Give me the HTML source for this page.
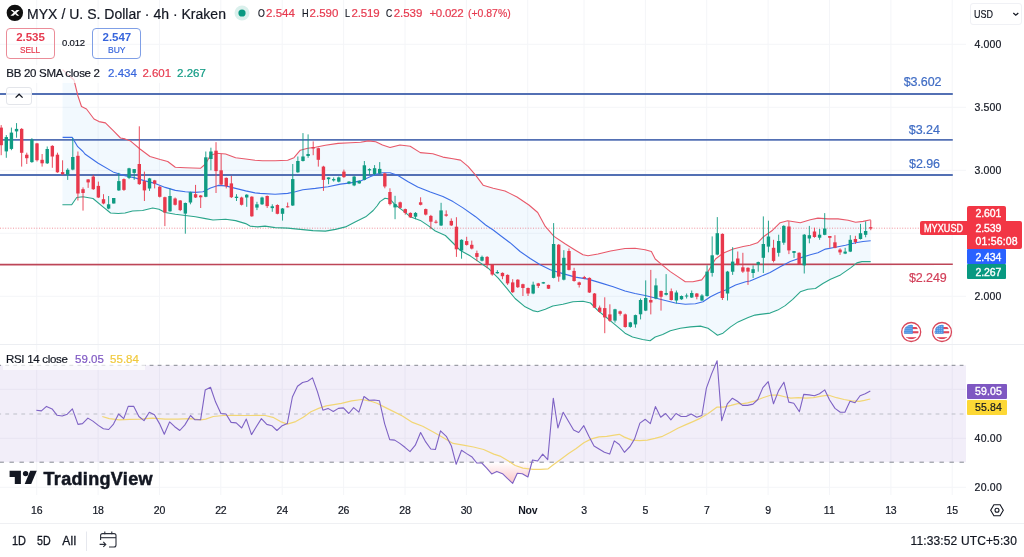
<!DOCTYPE html>
<html><head><meta charset="utf-8"><title>MYXUSD chart</title>
<style>
html,body{margin:0;padding:0;background:#fff;}
#root{position:relative;width:1024px;height:557px;overflow:hidden;background:#fff;font-family:"Liberation Sans",sans-serif;}
svg{position:absolute;left:0;top:0;}
.t{position:absolute;white-space:pre;font-family:"Liberation Sans",sans-serif;}
.box{position:absolute;box-sizing:border-box;}
#labels{position:absolute;left:0;top:0;width:1024px;height:557px;will-change:transform;}
</style></head><body>
<div id="root">
<svg width="1024" height="557" viewBox="0 0 1024 557">
<line x1="36.7" y1="0" x2="36.7" y2="495" stroke="#f4f5f8" stroke-width="1"/>
<line x1="98.1" y1="0" x2="98.1" y2="495" stroke="#f4f5f8" stroke-width="1"/>
<line x1="159.5" y1="0" x2="159.5" y2="495" stroke="#f4f5f8" stroke-width="1"/>
<line x1="220.8" y1="0" x2="220.8" y2="495" stroke="#f4f5f8" stroke-width="1"/>
<line x1="282.2" y1="0" x2="282.2" y2="495" stroke="#f4f5f8" stroke-width="1"/>
<line x1="343.6" y1="0" x2="343.6" y2="495" stroke="#f4f5f8" stroke-width="1"/>
<line x1="405.0" y1="0" x2="405.0" y2="495" stroke="#f4f5f8" stroke-width="1"/>
<line x1="466.4" y1="0" x2="466.4" y2="495" stroke="#f4f5f8" stroke-width="1"/>
<line x1="527.7" y1="0" x2="527.7" y2="495" stroke="#f4f5f8" stroke-width="1"/>
<line x1="584.0" y1="0" x2="584.0" y2="495" stroke="#f4f5f8" stroke-width="1"/>
<line x1="645.4" y1="0" x2="645.4" y2="495" stroke="#f4f5f8" stroke-width="1"/>
<line x1="706.7" y1="0" x2="706.7" y2="495" stroke="#f4f5f8" stroke-width="1"/>
<line x1="768.1" y1="0" x2="768.1" y2="495" stroke="#f4f5f8" stroke-width="1"/>
<line x1="829.5" y1="0" x2="829.5" y2="495" stroke="#f4f5f8" stroke-width="1"/>
<line x1="890.9" y1="0" x2="890.9" y2="495" stroke="#f4f5f8" stroke-width="1"/>
<line x1="952.2" y1="0" x2="952.2" y2="495" stroke="#f4f5f8" stroke-width="1"/>
<line x1="0" y1="44.3" x2="966" y2="44.3" stroke="#f4f5f8" stroke-width="1"/>
<line x1="0" y1="107.3" x2="966" y2="107.3" stroke="#f4f5f8" stroke-width="1"/>
<line x1="0" y1="170.3" x2="966" y2="170.3" stroke="#f4f5f8" stroke-width="1"/>
<line x1="0" y1="233.3" x2="966" y2="233.3" stroke="#f4f5f8" stroke-width="1"/>
<line x1="0" y1="296.3" x2="966" y2="296.3" stroke="#f4f5f8" stroke-width="1"/>
<line x1="0" y1="389.3" x2="966" y2="389.3" stroke="#f4f5f8" stroke-width="1"/>
<line x1="0" y1="438.3" x2="966" y2="438.3" stroke="#f4f5f8" stroke-width="1"/>
<line x1="0" y1="487.3" x2="966" y2="487.3" stroke="#f4f5f8" stroke-width="1"/>
<line x1="0" y1="344.5" x2="1024" y2="344.5" stroke="#eceef2" stroke-width="1"/>
<line x1="0" y1="523.5" x2="1024" y2="523.5" stroke="#eff0f3" stroke-width="1"/>
<path d="M62.6,69.6 L74.0,80.0 L77.7,95.2 L81.5,106.5 L86.5,109.0 L94.0,119.0 L99.0,121.6 L105.4,122.9 L113.0,130.4 L120.5,138.0 L125.0,138.9 L130.0,140.7 L140.0,149.0 L150.0,156.5 L160.2,159.5 L167.7,161.5 L175.3,167.3 L185.3,167.8 L200.4,168.3 L205.5,164.0 L210.5,155.2 L216.8,153.2 L225.6,154.0 L235.6,157.8 L245.7,159.0 L255.0,160.3 L262.6,160.8 L275.1,160.8 L287.7,160.3 L294.0,157.7 L300.3,150.2 L307.8,148.2 L315.4,147.2 L325.4,145.2 L338.0,143.4 L350.6,142.7 L360.6,142.2 L368.2,140.9 L375.7,141.8 L382.5,145.0 L390.0,147.5 L400.0,145.0 L410.2,146.3 L420.3,152.6 L432.8,153.8 L442.9,157.1 L453.0,158.8 L460.5,160.1 L468.0,166.4 L475.6,175.2 L483.1,185.2 L493.2,188.3 L505.0,191.0 L517.0,197.0 L528.9,205.0 L537.7,212.5 L545.3,226.4 L554.0,236.4 L565.4,244.0 L575.4,250.2 L583.0,254.8 L588.0,255.8 L598.0,254.0 L610.6,251.0 L625.0,248.5 L635.0,248.2 L645.1,249.7 L651.4,251.5 L655.2,259.0 L662.7,265.3 L670.3,271.6 L677.8,276.6 L685.3,281.7 L692.9,281.7 L701.7,279.9 L708.0,271.6 L715.5,259.0 L723.0,253.3 L733.1,249.0 L743.2,246.5 L750.0,245.3 L757.5,242.8 L763.8,236.5 L772.6,230.2 L780.2,222.7 L787.7,220.7 L800.3,222.7 L810.3,219.7 L817.9,218.1 L827.9,218.9 L838.0,218.9 L848.1,220.2 L855.6,222.2 L863.1,221.4 L870.7,219.7 L870.7,261.6 L861.9,261.6 L856.9,262.9 L850.6,267.9 L840.5,274.9 L830.5,279.2 L822.9,283.5 L815.4,288.5 L807.8,289.3 L800.3,291.8 L792.7,299.3 L785.2,305.6 L777.7,310.1 L770.1,313.1 L760.0,314.4 L755.0,315.1 L748.2,317.6 L738.1,321.9 L730.6,326.9 L723.0,333.2 L717.5,335.2 L713.0,331.9 L708.0,328.2 L700.4,326.1 L690.4,326.9 L680.3,328.2 L670.3,330.7 L662.7,334.4 L655.2,337.0 L650.1,340.7 L642.6,339.5 L632.5,337.0 L625.0,333.2 L620.7,329.4 L613.2,323.1 L605.6,316.8 L598.0,310.6 L590.5,303.0 L583.0,301.3 L572.9,301.8 L562.9,304.3 L552.8,306.0 L545.3,309.3 L537.7,311.8 L532.7,310.6 L525.1,306.8 L515.1,298.5 L507.5,289.2 L498.2,278.2 L488.2,268.2 L478.1,261.4 L470.5,256.1 L460.5,250.6 L453.0,243.0 L445.4,235.5 L435.3,231.0 L427.8,225.4 L420.3,220.4 L410.2,216.7 L402.7,210.4 L395.1,204.8 L390.0,199.1 L385.0,198.3 L380.0,201.6 L377.0,206.0 L373.2,210.5 L365.7,216.8 L355.6,221.8 L345.5,226.9 L335.5,229.4 L325.4,231.1 L312.9,230.6 L300.3,229.4 L287.7,228.1 L275.1,227.6 L265.0,226.1 L257.5,226.9 L250.0,226.1 L245.7,223.6 L235.6,220.6 L225.6,219.3 L213.0,220.0 L205.5,218.6 L195.4,216.8 L185.3,215.5 L175.3,214.3 L165.2,212.5 L159.0,209.3 L152.7,208.0 L142.6,210.5 L132.5,211.0 L125.0,213.0 L118.2,213.5 L110.6,213.0 L103.0,206.8 L93.0,198.5 L83.0,196.7 L76.7,197.5 L71.7,204.7 L62.4,204.7 Z" fill="#2196f3" fill-opacity="0.06" stroke="none"/>
<line x1="0" y1="94" x2="952.8" y2="94" stroke="#5370b4" stroke-width="1.8"/>
<line x1="0" y1="139.8" x2="952.8" y2="139.8" stroke="#5370b4" stroke-width="1.8"/>
<line x1="0" y1="175" x2="952.8" y2="175" stroke="#5370b4" stroke-width="1.8"/>
<line x1="0" y1="264.6" x2="952.8" y2="264.3" stroke="#bd4557" stroke-width="1.6"/>
<line x1="0" y1="228.2" x2="920" y2="228.2" stroke="#e63a4f" stroke-width="1" stroke-dasharray="1,1.6" stroke-opacity="0.55"/>
<path d="M62.6,69.6 L74.0,80.0 L77.7,95.2 L81.5,106.5 L86.5,109.0 L94.0,119.0 L99.0,121.6 L105.4,122.9 L113.0,130.4 L120.5,138.0 L125.0,138.9 L130.0,140.7 L140.0,149.0 L150.0,156.5 L160.2,159.5 L167.7,161.5 L175.3,167.3 L185.3,167.8 L200.4,168.3 L205.5,164.0 L210.5,155.2 L216.8,153.2 L225.6,154.0 L235.6,157.8 L245.7,159.0 L255.0,160.3 L262.6,160.8 L275.1,160.8 L287.7,160.3 L294.0,157.7 L300.3,150.2 L307.8,148.2 L315.4,147.2 L325.4,145.2 L338.0,143.4 L350.6,142.7 L360.6,142.2 L368.2,140.9 L375.7,141.8 L382.5,145.0 L390.0,147.5 L400.0,145.0 L410.2,146.3 L420.3,152.6 L432.8,153.8 L442.9,157.1 L453.0,158.8 L460.5,160.1 L468.0,166.4 L475.6,175.2 L483.1,185.2 L493.2,188.3 L505.0,191.0 L517.0,197.0 L528.9,205.0 L537.7,212.5 L545.3,226.4 L554.0,236.4 L565.4,244.0 L575.4,250.2 L583.0,254.8 L588.0,255.8 L598.0,254.0 L610.6,251.0 L625.0,248.5 L635.0,248.2 L645.1,249.7 L651.4,251.5 L655.2,259.0 L662.7,265.3 L670.3,271.6 L677.8,276.6 L685.3,281.7 L692.9,281.7 L701.7,279.9 L708.0,271.6 L715.5,259.0 L723.0,253.3 L733.1,249.0 L743.2,246.5 L750.0,245.3 L757.5,242.8 L763.8,236.5 L772.6,230.2 L780.2,222.7 L787.7,220.7 L800.3,222.7 L810.3,219.7 L817.9,218.1 L827.9,218.9 L838.0,218.9 L848.1,220.2 L855.6,222.2 L863.1,221.4 L870.7,219.7" fill="none" stroke="#e8596a" stroke-width="1.1" stroke-linejoin="round"/>
<path d="M62.4,204.7 L71.7,204.7 L76.7,197.5 L83.0,196.7 L93.0,198.5 L103.0,206.8 L110.6,213.0 L118.2,213.5 L125.0,213.0 L132.5,211.0 L142.6,210.5 L152.7,208.0 L159.0,209.3 L165.2,212.5 L175.3,214.3 L185.3,215.5 L195.4,216.8 L205.5,218.6 L213.0,220.0 L225.6,219.3 L235.6,220.6 L245.7,223.6 L250.0,226.1 L257.5,226.9 L265.0,226.1 L275.1,227.6 L287.7,228.1 L300.3,229.4 L312.9,230.6 L325.4,231.1 L335.5,229.4 L345.5,226.9 L355.6,221.8 L365.7,216.8 L373.2,210.5 L377.0,206.0 L380.0,201.6 L385.0,198.3 L390.0,199.1 L395.1,204.8 L402.7,210.4 L410.2,216.7 L420.3,220.4 L427.8,225.4 L435.3,231.0 L445.4,235.5 L453.0,243.0 L460.5,250.6 L470.5,256.1 L478.1,261.4 L488.2,268.2 L498.2,278.2 L507.5,289.2 L515.1,298.5 L525.1,306.8 L532.7,310.6 L537.7,311.8 L545.3,309.3 L552.8,306.0 L562.9,304.3 L572.9,301.8 L583.0,301.3 L590.5,303.0 L598.0,310.6 L605.6,316.8 L613.2,323.1 L620.7,329.4 L625.0,333.2 L632.5,337.0 L642.6,339.5 L650.1,340.7 L655.2,337.0 L662.7,334.4 L670.3,330.7 L680.3,328.2 L690.4,326.9 L700.4,326.1 L708.0,328.2 L713.0,331.9 L717.5,335.2 L723.0,333.2 L730.6,326.9 L738.1,321.9 L748.2,317.6 L755.0,315.1 L760.0,314.4 L770.1,313.1 L777.7,310.1 L785.2,305.6 L792.7,299.3 L800.3,291.8 L807.8,289.3 L815.4,288.5 L822.9,283.5 L830.5,279.2 L840.5,274.9 L850.6,267.9 L856.9,262.9 L861.9,261.6 L870.7,261.6" fill="none" stroke="#2aa58b" stroke-width="1.1" stroke-linejoin="round"/>
<path d="M62.6,137.4 L72.2,137.4 L77.7,146.7 L83.0,151.5 L85.3,154.3 L97.8,163.0 L113.0,171.9 L125.0,175.8 L135.0,177.9 L145.0,180.9 L155.2,183.4 L165.2,187.4 L175.3,190.4 L185.3,191.7 L195.4,192.4 L203.0,191.7 L210.5,187.9 L218.0,185.4 L225.6,185.9 L235.6,188.4 L245.7,190.9 L255.0,192.9 L260.0,193.4 L275.1,194.2 L287.7,193.4 L295.3,191.7 L302.8,189.7 L315.4,188.4 L328.0,186.7 L340.5,184.1 L350.6,182.9 L360.6,180.9 L370.7,176.6 L377.0,174.0 L382.5,172.7 L390.0,172.7 L397.6,175.2 L407.7,181.5 L417.7,187.0 L430.3,192.0 L442.9,196.5 L453.0,201.6 L463.0,207.9 L475.6,216.7 L485.6,225.0 L493.2,230.0 L500.0,235.2 L510.0,242.7 L520.1,251.5 L530.2,258.5 L540.2,264.8 L550.3,269.8 L562.9,273.6 L575.4,277.1 L588.0,279.1 L600.6,282.9 L613.2,286.7 L625.0,291.0 L635.0,293.5 L645.1,295.5 L655.2,298.0 L665.2,300.5 L675.3,303.0 L685.3,304.3 L695.4,303.8 L703.0,301.8 L710.5,296.7 L718.0,293.0 L725.6,290.0 L735.6,284.9 L745.7,281.7 L750.0,281.0 L760.0,276.7 L770.1,272.4 L780.2,266.7 L790.2,261.6 L800.3,257.9 L810.3,254.8 L817.9,252.8 L825.4,249.1 L835.5,247.3 L845.5,245.3 L855.6,242.8 L863.1,241.5 L870.7,240.8" fill="none" stroke="#3d6fe8" stroke-width="1.1" stroke-linejoin="round"/>
<line x1="1.20" y1="125.1" x2="1.20" y2="155.2" stroke="#e8384c" stroke-width="0.9"/>
<rect x="-0.50" y="127.6" width="3.4" height="17.6" fill="#e8384c"/>
<line x1="6.31" y1="135.1" x2="6.31" y2="157.8" stroke="#0f9b82" stroke-width="0.9"/>
<rect x="4.61" y="137.1" width="3.4" height="14.3" fill="#0f9b82"/>
<line x1="11.42" y1="127.6" x2="11.42" y2="150.2" stroke="#0f9b82" stroke-width="0.9"/>
<rect x="9.72" y="132.6" width="3.4" height="16.3" fill="#0f9b82"/>
<line x1="16.54" y1="123.1" x2="16.54" y2="137.7" stroke="#0f9b82" stroke-width="0.9"/>
<rect x="14.84" y="128.9" width="3.4" height="2.5" fill="#0f9b82"/>
<line x1="21.66" y1="128.1" x2="21.66" y2="166.6" stroke="#e8384c" stroke-width="0.9"/>
<rect x="19.96" y="128.9" width="3.4" height="23.9" fill="#e8384c"/>
<line x1="26.77" y1="152.7" x2="26.77" y2="164.0" stroke="#e8384c" stroke-width="0.9"/>
<rect x="25.07" y="154.7" width="3.4" height="3.5" fill="#e8384c"/>
<line x1="31.88" y1="138.2" x2="31.88" y2="162.8" stroke="#0f9b82" stroke-width="0.9"/>
<rect x="30.18" y="139.7" width="3.4" height="22.4" fill="#0f9b82"/>
<line x1="37.00" y1="142.9" x2="37.00" y2="161.5" stroke="#e8384c" stroke-width="0.9"/>
<rect x="35.30" y="143.4" width="3.4" height="16.8" fill="#e8384c"/>
<line x1="42.12" y1="154.0" x2="42.12" y2="166.6" stroke="#e8384c" stroke-width="0.9"/>
<rect x="40.41" y="159.8" width="3.4" height="3.5" fill="#e8384c"/>
<line x1="47.23" y1="146.5" x2="47.23" y2="164.0" stroke="#0f9b82" stroke-width="0.9"/>
<rect x="45.53" y="149.0" width="3.4" height="14.3" fill="#0f9b82"/>
<line x1="52.34" y1="145.2" x2="52.34" y2="167.8" stroke="#e8384c" stroke-width="0.9"/>
<rect x="50.64" y="145.9" width="3.4" height="10.6" fill="#e8384c"/>
<line x1="57.46" y1="152.7" x2="57.46" y2="172.8" stroke="#e8384c" stroke-width="0.9"/>
<rect x="55.76" y="154.7" width="3.4" height="17.6" fill="#e8384c"/>
<line x1="62.58" y1="160.3" x2="62.58" y2="174.9" stroke="#e8384c" stroke-width="0.9"/>
<rect x="60.88" y="172.1" width="3.4" height="2.0" fill="#e8384c"/>
<line x1="67.69" y1="168.3" x2="67.69" y2="179.9" stroke="#0f9b82" stroke-width="0.9"/>
<rect x="65.99" y="169.8" width="3.4" height="5.0" fill="#0f9b82"/>
<line x1="72.81" y1="138.2" x2="72.81" y2="170.3" stroke="#0f9b82" stroke-width="0.9"/>
<rect x="71.11" y="157.0" width="3.4" height="12.6" fill="#0f9b82"/>
<line x1="77.92" y1="151.5" x2="77.92" y2="200.5" stroke="#e8384c" stroke-width="0.9"/>
<rect x="76.22" y="155.8" width="3.4" height="37.7" fill="#e8384c"/>
<line x1="83.03" y1="187.4" x2="83.03" y2="210.6" stroke="#e8384c" stroke-width="0.9"/>
<rect x="81.33" y="189.2" width="3.4" height="3.8" fill="#e8384c"/>
<line x1="88.15" y1="179.1" x2="88.15" y2="187.9" stroke="#e8384c" stroke-width="0.9"/>
<rect x="86.45" y="179.4" width="3.4" height="3.0" fill="#e8384c"/>
<line x1="93.27" y1="174.9" x2="93.27" y2="189.9" stroke="#e8384c" stroke-width="0.9"/>
<rect x="91.56" y="176.6" width="3.4" height="12.6" fill="#e8384c"/>
<line x1="98.38" y1="181.6" x2="98.38" y2="198.0" stroke="#e8384c" stroke-width="0.9"/>
<rect x="96.68" y="185.9" width="3.4" height="11.6" fill="#e8384c"/>
<line x1="103.50" y1="194.2" x2="103.50" y2="204.3" stroke="#e8384c" stroke-width="0.9"/>
<rect x="101.80" y="199.2" width="3.4" height="4.3" fill="#e8384c"/>
<line x1="108.61" y1="196.0" x2="108.61" y2="209.3" stroke="#0f9b82" stroke-width="0.9"/>
<rect x="106.91" y="204.3" width="3.4" height="4.3" fill="#0f9b82"/>
<line x1="113.73" y1="198.0" x2="113.73" y2="203.5" stroke="#0f9b82" stroke-width="0.9"/>
<rect x="112.03" y="198.0" width="3.4" height="5.5" fill="#0f9b82"/>
<line x1="118.84" y1="172.8" x2="118.84" y2="190.9" stroke="#0f9b82" stroke-width="0.9"/>
<rect x="117.14" y="181.1" width="3.4" height="9.3" fill="#0f9b82"/>
<line x1="123.95" y1="178.4" x2="123.95" y2="190.9" stroke="#e8384c" stroke-width="0.9"/>
<rect x="122.25" y="179.1" width="3.4" height="10.8" fill="#e8384c"/>
<line x1="129.07" y1="167.8" x2="129.07" y2="179.1" stroke="#0f9b82" stroke-width="0.9"/>
<rect x="127.37" y="168.3" width="3.4" height="9.6" fill="#0f9b82"/>
<line x1="134.19" y1="169.1" x2="134.19" y2="179.9" stroke="#0f9b82" stroke-width="0.9"/>
<rect x="132.49" y="169.1" width="3.4" height="3.8" fill="#0f9b82"/>
<line x1="139.30" y1="126.3" x2="139.30" y2="184.9" stroke="#e8384c" stroke-width="0.9"/>
<rect x="137.60" y="164.0" width="3.4" height="20.1" fill="#e8384c"/>
<line x1="144.42" y1="171.6" x2="144.42" y2="201.0" stroke="#e8384c" stroke-width="0.9"/>
<rect x="142.72" y="181.1" width="3.4" height="9.3" fill="#e8384c"/>
<line x1="149.53" y1="177.9" x2="149.53" y2="190.9" stroke="#0f9b82" stroke-width="0.9"/>
<rect x="147.83" y="178.4" width="3.4" height="10.1" fill="#0f9b82"/>
<line x1="154.65" y1="179.9" x2="154.65" y2="188.4" stroke="#e8384c" stroke-width="0.9"/>
<rect x="152.95" y="180.4" width="3.4" height="3.3" fill="#e8384c"/>
<line x1="159.76" y1="185.9" x2="159.76" y2="197.5" stroke="#e8384c" stroke-width="0.9"/>
<rect x="158.06" y="186.7" width="3.4" height="10.1" fill="#e8384c"/>
<line x1="164.88" y1="196.7" x2="164.88" y2="226.1" stroke="#e8384c" stroke-width="0.9"/>
<rect x="163.18" y="197.2" width="3.4" height="15.3" fill="#e8384c"/>
<line x1="169.99" y1="188.4" x2="169.99" y2="211.8" stroke="#0f9b82" stroke-width="0.9"/>
<rect x="168.29" y="196.0" width="3.4" height="15.3" fill="#0f9b82"/>
<line x1="175.11" y1="197.5" x2="175.11" y2="205.5" stroke="#e8384c" stroke-width="0.9"/>
<rect x="173.41" y="198.5" width="3.4" height="6.3" fill="#e8384c"/>
<line x1="180.22" y1="200.0" x2="180.22" y2="211.1" stroke="#e8384c" stroke-width="0.9"/>
<rect x="178.52" y="200.5" width="3.4" height="9.6" fill="#e8384c"/>
<line x1="185.34" y1="202.5" x2="185.34" y2="233.7" stroke="#0f9b82" stroke-width="0.9"/>
<rect x="183.64" y="203.0" width="3.4" height="10.6" fill="#0f9b82"/>
<line x1="190.45" y1="191.7" x2="190.45" y2="204.3" stroke="#0f9b82" stroke-width="0.9"/>
<rect x="188.75" y="192.2" width="3.4" height="10.3" fill="#0f9b82"/>
<line x1="195.56" y1="184.9" x2="195.56" y2="198.0" stroke="#e8384c" stroke-width="0.9"/>
<rect x="193.87" y="194.2" width="3.4" height="3.3" fill="#e8384c"/>
<line x1="200.68" y1="195.0" x2="200.68" y2="208.0" stroke="#e8384c" stroke-width="0.9"/>
<rect x="198.98" y="195.5" width="3.4" height="1.8" fill="#e8384c"/>
<line x1="205.80" y1="151.5" x2="205.80" y2="197.2" stroke="#0f9b82" stroke-width="0.9"/>
<rect x="204.10" y="157.3" width="3.4" height="39.5" fill="#0f9b82"/>
<line x1="210.91" y1="147.7" x2="210.91" y2="170.3" stroke="#0f9b82" stroke-width="0.9"/>
<rect x="209.21" y="151.5" width="3.4" height="7.5" fill="#0f9b82"/>
<line x1="216.03" y1="142.2" x2="216.03" y2="193.0" stroke="#e8384c" stroke-width="0.9"/>
<rect x="214.33" y="150.7" width="3.4" height="20.4" fill="#e8384c"/>
<line x1="221.14" y1="154.0" x2="221.14" y2="185.4" stroke="#e8384c" stroke-width="0.9"/>
<rect x="219.44" y="170.3" width="3.4" height="14.3" fill="#e8384c"/>
<line x1="226.25" y1="177.4" x2="226.25" y2="188.4" stroke="#e8384c" stroke-width="0.9"/>
<rect x="224.56" y="177.9" width="3.4" height="8.3" fill="#e8384c"/>
<line x1="231.37" y1="175.9" x2="231.37" y2="198.0" stroke="#e8384c" stroke-width="0.9"/>
<rect x="229.67" y="183.4" width="3.4" height="13.8" fill="#e8384c"/>
<line x1="236.49" y1="194.2" x2="236.49" y2="201.0" stroke="#0f9b82" stroke-width="0.9"/>
<rect x="234.79" y="196.7" width="3.4" height="1.3" fill="#0f9b82"/>
<line x1="241.60" y1="196.7" x2="241.60" y2="205.5" stroke="#e8384c" stroke-width="0.9"/>
<rect x="239.90" y="197.5" width="3.4" height="7.3" fill="#e8384c"/>
<line x1="246.72" y1="194.2" x2="246.72" y2="206.8" stroke="#0f9b82" stroke-width="0.9"/>
<rect x="245.02" y="194.7" width="3.4" height="2.8" fill="#0f9b82"/>
<line x1="251.83" y1="196.2" x2="251.83" y2="216.8" stroke="#e8384c" stroke-width="0.9"/>
<rect x="250.13" y="196.7" width="3.4" height="19.6" fill="#e8384c"/>
<line x1="256.95" y1="201.8" x2="256.95" y2="210.1" stroke="#0f9b82" stroke-width="0.9"/>
<rect x="255.25" y="204.3" width="3.4" height="3.3" fill="#0f9b82"/>
<line x1="262.06" y1="196.7" x2="262.06" y2="205.0" stroke="#0f9b82" stroke-width="0.9"/>
<rect x="260.36" y="197.5" width="3.4" height="6.8" fill="#0f9b82"/>
<line x1="267.18" y1="195.5" x2="267.18" y2="208.0" stroke="#e8384c" stroke-width="0.9"/>
<rect x="265.48" y="196.0" width="3.4" height="10.1" fill="#e8384c"/>
<line x1="272.29" y1="204.3" x2="272.29" y2="211.8" stroke="#0f9b82" stroke-width="0.9"/>
<rect x="270.59" y="206.3" width="3.4" height="1.8" fill="#0f9b82"/>
<line x1="277.40" y1="204.3" x2="277.40" y2="214.3" stroke="#e8384c" stroke-width="0.9"/>
<rect x="275.70" y="205.0" width="3.4" height="8.8" fill="#e8384c"/>
<line x1="282.52" y1="208.0" x2="282.52" y2="220.6" stroke="#0f9b82" stroke-width="0.9"/>
<rect x="280.82" y="208.5" width="3.4" height="5.3" fill="#0f9b82"/>
<line x1="287.63" y1="202.5" x2="287.63" y2="207.5" stroke="#e8384c" stroke-width="0.9"/>
<rect x="285.94" y="206.3" width="3.4" height="1.0" fill="#e8384c"/>
<line x1="292.75" y1="164.0" x2="292.75" y2="206.0" stroke="#0f9b82" stroke-width="0.9"/>
<rect x="291.05" y="179.1" width="3.4" height="26.4" fill="#0f9b82"/>
<line x1="297.87" y1="156.5" x2="297.87" y2="172.8" stroke="#0f9b82" stroke-width="0.9"/>
<rect x="296.17" y="161.0" width="3.4" height="11.3" fill="#0f9b82"/>
<line x1="302.98" y1="133.1" x2="302.98" y2="161.5" stroke="#0f9b82" stroke-width="0.9"/>
<rect x="301.28" y="156.5" width="3.4" height="4.5" fill="#0f9b82"/>
<line x1="308.10" y1="134.4" x2="308.10" y2="157.8" stroke="#0f9b82" stroke-width="0.9"/>
<rect x="306.40" y="154.0" width="3.4" height="2.0" fill="#0f9b82"/>
<line x1="313.21" y1="141.4" x2="313.21" y2="155.2" stroke="#e8384c" stroke-width="0.9"/>
<rect x="311.51" y="147.2" width="3.4" height="1.3" fill="#e8384c"/>
<line x1="318.32" y1="147.7" x2="318.32" y2="166.6" stroke="#e8384c" stroke-width="0.9"/>
<rect x="316.62" y="148.2" width="3.4" height="11.6" fill="#e8384c"/>
<line x1="323.44" y1="165.8" x2="323.44" y2="190.9" stroke="#e8384c" stroke-width="0.9"/>
<rect x="321.74" y="166.6" width="3.4" height="13.3" fill="#e8384c"/>
<line x1="328.56" y1="177.4" x2="328.56" y2="184.2" stroke="#0f9b82" stroke-width="0.9"/>
<rect x="326.86" y="177.4" width="3.4" height="1.8" fill="#0f9b82"/>
<line x1="333.67" y1="177.4" x2="333.67" y2="181.6" stroke="#0f9b82" stroke-width="0.9"/>
<rect x="331.97" y="179.1" width="3.4" height="1.3" fill="#0f9b82"/>
<line x1="338.79" y1="176.6" x2="338.79" y2="182.4" stroke="#0f9b82" stroke-width="0.9"/>
<rect x="337.09" y="177.4" width="3.4" height="4.3" fill="#0f9b82"/>
<line x1="343.90" y1="169.6" x2="343.90" y2="177.9" stroke="#e8384c" stroke-width="0.9"/>
<rect x="342.20" y="171.6" width="3.4" height="5.5" fill="#e8384c"/>
<line x1="349.01" y1="181.1" x2="349.01" y2="184.2" stroke="#0f9b82" stroke-width="0.9"/>
<rect x="347.31" y="181.6" width="3.4" height="1.8" fill="#0f9b82"/>
<line x1="354.13" y1="175.9" x2="354.13" y2="186.2" stroke="#0f9b82" stroke-width="0.9"/>
<rect x="352.43" y="176.6" width="3.4" height="8.8" fill="#0f9b82"/>
<line x1="359.25" y1="180.4" x2="359.25" y2="183.7" stroke="#0f9b82" stroke-width="0.9"/>
<rect x="357.55" y="180.9" width="3.4" height="2.5" fill="#0f9b82"/>
<line x1="364.36" y1="161.0" x2="364.36" y2="180.4" stroke="#0f9b82" stroke-width="0.9"/>
<rect x="362.66" y="165.3" width="3.4" height="14.6" fill="#0f9b82"/>
<line x1="369.48" y1="168.3" x2="369.48" y2="174.9" stroke="#0f9b82" stroke-width="0.9"/>
<rect x="367.78" y="169.1" width="3.4" height="1.3" fill="#0f9b82"/>
<line x1="374.59" y1="165.1" x2="374.59" y2="175.2" stroke="#0f9b82" stroke-width="0.9"/>
<rect x="372.89" y="168.2" width="3.4" height="5.8" fill="#0f9b82"/>
<line x1="379.71" y1="162.1" x2="379.71" y2="173.9" stroke="#0f9b82" stroke-width="0.9"/>
<rect x="378.01" y="168.9" width="3.4" height="4.5" fill="#0f9b82"/>
<line x1="384.82" y1="172.7" x2="384.82" y2="188.3" stroke="#e8384c" stroke-width="0.9"/>
<rect x="383.12" y="173.4" width="3.4" height="13.1" fill="#e8384c"/>
<line x1="389.94" y1="188.3" x2="389.94" y2="205.4" stroke="#e8384c" stroke-width="0.9"/>
<rect x="388.24" y="192.0" width="3.4" height="12.1" fill="#e8384c"/>
<line x1="395.05" y1="195.8" x2="395.05" y2="219.2" stroke="#0f9b82" stroke-width="0.9"/>
<rect x="393.35" y="204.1" width="3.4" height="3.3" fill="#0f9b82"/>
<line x1="400.17" y1="201.6" x2="400.17" y2="208.4" stroke="#e8384c" stroke-width="0.9"/>
<rect x="398.47" y="202.3" width="3.4" height="5.5" fill="#e8384c"/>
<line x1="405.28" y1="208.6" x2="405.28" y2="214.7" stroke="#e8384c" stroke-width="0.9"/>
<rect x="403.58" y="209.1" width="3.4" height="3.8" fill="#e8384c"/>
<line x1="410.40" y1="212.4" x2="410.40" y2="217.9" stroke="#e8384c" stroke-width="0.9"/>
<rect x="408.70" y="212.9" width="3.4" height="4.5" fill="#e8384c"/>
<line x1="415.51" y1="212.1" x2="415.51" y2="219.2" stroke="#0f9b82" stroke-width="0.9"/>
<rect x="413.81" y="212.9" width="3.4" height="3.8" fill="#0f9b82"/>
<line x1="420.62" y1="197.3" x2="420.62" y2="205.4" stroke="#e8384c" stroke-width="0.9"/>
<rect x="418.93" y="202.3" width="3.4" height="2.5" fill="#e8384c"/>
<line x1="425.74" y1="208.6" x2="425.74" y2="215.4" stroke="#e8384c" stroke-width="0.9"/>
<rect x="424.04" y="209.1" width="3.4" height="5.5" fill="#e8384c"/>
<line x1="430.86" y1="214.9" x2="430.86" y2="229.2" stroke="#e8384c" stroke-width="0.9"/>
<rect x="429.16" y="215.9" width="3.4" height="5.8" fill="#e8384c"/>
<line x1="435.97" y1="219.9" x2="435.97" y2="223.5" stroke="#e8384c" stroke-width="0.9"/>
<rect x="434.27" y="221.7" width="3.4" height="1.0" fill="#e8384c"/>
<line x1="441.09" y1="202.8" x2="441.09" y2="226.0" stroke="#0f9b82" stroke-width="0.9"/>
<rect x="439.39" y="210.4" width="3.4" height="15.1" fill="#0f9b82"/>
<line x1="446.20" y1="210.4" x2="446.20" y2="216.7" stroke="#e8384c" stroke-width="0.9"/>
<rect x="444.50" y="214.4" width="3.4" height="1.3" fill="#e8384c"/>
<line x1="451.31" y1="218.4" x2="451.31" y2="226.0" stroke="#e8384c" stroke-width="0.9"/>
<rect x="449.62" y="220.9" width="3.4" height="4.5" fill="#e8384c"/>
<line x1="456.43" y1="217.2" x2="456.43" y2="256.9" stroke="#e8384c" stroke-width="0.9"/>
<rect x="454.73" y="226.7" width="3.4" height="22.6" fill="#e8384c"/>
<line x1="461.55" y1="239.3" x2="461.55" y2="258.7" stroke="#0f9b82" stroke-width="0.9"/>
<rect x="459.85" y="239.8" width="3.4" height="10.8" fill="#0f9b82"/>
<line x1="466.66" y1="236.8" x2="466.66" y2="245.6" stroke="#e8384c" stroke-width="0.9"/>
<rect x="464.96" y="241.1" width="3.4" height="3.8" fill="#e8384c"/>
<line x1="471.78" y1="240.6" x2="471.78" y2="249.4" stroke="#e8384c" stroke-width="0.9"/>
<rect x="470.08" y="244.8" width="3.4" height="3.8" fill="#e8384c"/>
<line x1="476.89" y1="250.6" x2="476.89" y2="261.2" stroke="#e8384c" stroke-width="0.9"/>
<rect x="475.19" y="253.1" width="3.4" height="3.8" fill="#e8384c"/>
<line x1="482.00" y1="255.6" x2="482.00" y2="261.4" stroke="#0f9b82" stroke-width="0.9"/>
<rect x="480.31" y="256.9" width="3.4" height="3.8" fill="#0f9b82"/>
<line x1="487.12" y1="256.1" x2="487.12" y2="268.2" stroke="#e8384c" stroke-width="0.9"/>
<rect x="485.42" y="256.9" width="3.4" height="8.0" fill="#e8384c"/>
<line x1="492.24" y1="264.4" x2="492.24" y2="275.7" stroke="#e8384c" stroke-width="0.9"/>
<rect x="490.54" y="264.9" width="3.4" height="9.6" fill="#e8384c"/>
<line x1="497.35" y1="270.2" x2="497.35" y2="273.7" stroke="#0f9b82" stroke-width="0.9"/>
<rect x="495.65" y="272.0" width="3.4" height="1.3" fill="#0f9b82"/>
<line x1="502.47" y1="272.4" x2="502.47" y2="279.2" stroke="#e8384c" stroke-width="0.9"/>
<rect x="500.77" y="272.9" width="3.4" height="3.3" fill="#e8384c"/>
<line x1="507.58" y1="274.4" x2="507.58" y2="284.9" stroke="#e8384c" stroke-width="0.9"/>
<rect x="505.88" y="274.9" width="3.4" height="8.5" fill="#e8384c"/>
<line x1="512.69" y1="279.2" x2="512.69" y2="293.0" stroke="#e8384c" stroke-width="0.9"/>
<rect x="510.99" y="282.4" width="3.4" height="9.8" fill="#e8384c"/>
<line x1="517.81" y1="279.2" x2="517.81" y2="288.0" stroke="#e8384c" stroke-width="0.9"/>
<rect x="516.11" y="279.7" width="3.4" height="7.5" fill="#e8384c"/>
<line x1="522.92" y1="283.7" x2="522.92" y2="296.0" stroke="#e8384c" stroke-width="0.9"/>
<rect x="521.22" y="284.2" width="3.4" height="3.8" fill="#e8384c"/>
<line x1="528.04" y1="287.5" x2="528.04" y2="296.0" stroke="#e8384c" stroke-width="0.9"/>
<rect x="526.34" y="288.0" width="3.4" height="5.5" fill="#e8384c"/>
<line x1="533.15" y1="281.7" x2="533.15" y2="294.2" stroke="#0f9b82" stroke-width="0.9"/>
<rect x="531.45" y="284.7" width="3.4" height="8.8" fill="#0f9b82"/>
<line x1="538.27" y1="282.9" x2="538.27" y2="288.0" stroke="#e8384c" stroke-width="0.9"/>
<rect x="536.57" y="283.4" width="3.4" height="2.5" fill="#e8384c"/>
<line x1="543.38" y1="281.9" x2="543.38" y2="283.7" stroke="#0f9b82" stroke-width="0.9"/>
<rect x="541.68" y="282.2" width="3.4" height="1.3" fill="#0f9b82"/>
<line x1="548.50" y1="284.7" x2="548.50" y2="289.0" stroke="#e8384c" stroke-width="0.9"/>
<rect x="546.80" y="284.9" width="3.4" height="3.8" fill="#e8384c"/>
<line x1="553.62" y1="223.1" x2="553.62" y2="278.4" stroke="#0f9b82" stroke-width="0.9"/>
<rect x="551.91" y="244.0" width="3.4" height="33.9" fill="#0f9b82"/>
<line x1="558.73" y1="244.0" x2="558.73" y2="281.7" stroke="#e8384c" stroke-width="0.9"/>
<rect x="557.03" y="244.7" width="3.4" height="31.9" fill="#e8384c"/>
<line x1="563.85" y1="250.2" x2="563.85" y2="280.4" stroke="#0f9b82" stroke-width="0.9"/>
<rect x="562.14" y="257.8" width="3.4" height="21.9" fill="#0f9b82"/>
<line x1="568.96" y1="248.5" x2="568.96" y2="270.4" stroke="#e8384c" stroke-width="0.9"/>
<rect x="567.26" y="251.0" width="3.4" height="18.9" fill="#e8384c"/>
<line x1="574.08" y1="267.8" x2="574.08" y2="281.7" stroke="#e8384c" stroke-width="0.9"/>
<rect x="572.38" y="270.9" width="3.4" height="10.1" fill="#e8384c"/>
<line x1="579.19" y1="281.7" x2="579.19" y2="287.5" stroke="#e8384c" stroke-width="0.9"/>
<rect x="577.49" y="282.4" width="3.4" height="2.5" fill="#e8384c"/>
<line x1="584.31" y1="275.9" x2="584.31" y2="279.2" stroke="#e8384c" stroke-width="0.9"/>
<rect x="582.61" y="277.1" width="3.4" height="1.3" fill="#e8384c"/>
<line x1="589.42" y1="277.4" x2="589.42" y2="293.0" stroke="#e8384c" stroke-width="0.9"/>
<rect x="587.72" y="277.9" width="3.4" height="14.6" fill="#e8384c"/>
<line x1="594.53" y1="293.0" x2="594.53" y2="308.1" stroke="#e8384c" stroke-width="0.9"/>
<rect x="592.83" y="293.5" width="3.4" height="14.1" fill="#e8384c"/>
<line x1="599.65" y1="305.6" x2="599.65" y2="312.6" stroke="#e8384c" stroke-width="0.9"/>
<rect x="597.95" y="307.6" width="3.4" height="4.3" fill="#e8384c"/>
<line x1="604.76" y1="297.3" x2="604.76" y2="333.2" stroke="#e8384c" stroke-width="0.9"/>
<rect x="603.06" y="308.1" width="3.4" height="9.3" fill="#e8384c"/>
<line x1="609.88" y1="304.3" x2="609.88" y2="321.9" stroke="#e8384c" stroke-width="0.9"/>
<rect x="608.18" y="314.4" width="3.4" height="6.3" fill="#e8384c"/>
<line x1="615.00" y1="308.8" x2="615.00" y2="322.6" stroke="#0f9b82" stroke-width="0.9"/>
<rect x="613.29" y="309.3" width="3.4" height="11.3" fill="#0f9b82"/>
<line x1="620.11" y1="310.6" x2="620.11" y2="315.6" stroke="#e8384c" stroke-width="0.9"/>
<rect x="618.41" y="311.3" width="3.4" height="2.5" fill="#e8384c"/>
<line x1="625.23" y1="313.6" x2="625.23" y2="327.7" stroke="#e8384c" stroke-width="0.9"/>
<rect x="623.52" y="314.4" width="3.4" height="12.6" fill="#e8384c"/>
<line x1="630.34" y1="321.9" x2="630.34" y2="327.7" stroke="#0f9b82" stroke-width="0.9"/>
<rect x="628.64" y="322.4" width="3.4" height="4.5" fill="#0f9b82"/>
<line x1="635.46" y1="314.6" x2="635.46" y2="327.7" stroke="#0f9b82" stroke-width="0.9"/>
<rect x="633.75" y="315.1" width="3.4" height="9.3" fill="#0f9b82"/>
<line x1="640.57" y1="298.5" x2="640.57" y2="319.4" stroke="#0f9b82" stroke-width="0.9"/>
<rect x="638.87" y="300.0" width="3.4" height="14.3" fill="#0f9b82"/>
<line x1="645.69" y1="280.4" x2="645.69" y2="311.1" stroke="#0f9b82" stroke-width="0.9"/>
<rect x="643.99" y="298.0" width="3.4" height="12.6" fill="#0f9b82"/>
<line x1="650.80" y1="269.9" x2="650.80" y2="314.4" stroke="#e8384c" stroke-width="0.9"/>
<rect x="649.10" y="300.0" width="3.4" height="2.5" fill="#e8384c"/>
<line x1="655.92" y1="278.4" x2="655.92" y2="299.3" stroke="#0f9b82" stroke-width="0.9"/>
<rect x="654.22" y="285.4" width="3.4" height="13.1" fill="#0f9b82"/>
<line x1="661.03" y1="290.5" x2="661.03" y2="310.6" stroke="#e8384c" stroke-width="0.9"/>
<rect x="659.33" y="291.0" width="3.4" height="5.8" fill="#e8384c"/>
<line x1="666.14" y1="274.1" x2="666.14" y2="295.5" stroke="#0f9b82" stroke-width="0.9"/>
<rect x="664.44" y="293.0" width="3.4" height="1.8" fill="#0f9b82"/>
<line x1="671.26" y1="288.5" x2="671.26" y2="300.5" stroke="#e8384c" stroke-width="0.9"/>
<rect x="669.56" y="291.2" width="3.4" height="8.8" fill="#e8384c"/>
<line x1="676.38" y1="290.5" x2="676.38" y2="303.5" stroke="#0f9b82" stroke-width="0.9"/>
<rect x="674.67" y="292.5" width="3.4" height="8.0" fill="#0f9b82"/>
<line x1="681.49" y1="295.5" x2="681.49" y2="299.8" stroke="#0f9b82" stroke-width="0.9"/>
<rect x="679.79" y="296.0" width="3.4" height="3.3" fill="#0f9b82"/>
<line x1="686.61" y1="293.5" x2="686.61" y2="298.5" stroke="#0f9b82" stroke-width="0.9"/>
<rect x="684.90" y="295.5" width="3.4" height="1.0" fill="#0f9b82"/>
<line x1="691.72" y1="290.5" x2="691.72" y2="298.0" stroke="#0f9b82" stroke-width="0.9"/>
<rect x="690.02" y="293.0" width="3.4" height="4.5" fill="#0f9b82"/>
<line x1="696.84" y1="293.0" x2="696.84" y2="299.3" stroke="#e8384c" stroke-width="0.9"/>
<rect x="695.13" y="293.5" width="3.4" height="3.3" fill="#e8384c"/>
<line x1="701.95" y1="294.2" x2="701.95" y2="301.0" stroke="#0f9b82" stroke-width="0.9"/>
<rect x="700.25" y="295.5" width="3.4" height="5.0" fill="#0f9b82"/>
<line x1="707.07" y1="265.3" x2="707.07" y2="296.8" stroke="#0f9b82" stroke-width="0.9"/>
<rect x="705.37" y="271.6" width="3.4" height="24.4" fill="#0f9b82"/>
<line x1="712.18" y1="236.4" x2="712.18" y2="276.6" stroke="#0f9b82" stroke-width="0.9"/>
<rect x="710.48" y="255.3" width="3.4" height="17.6" fill="#0f9b82"/>
<line x1="717.30" y1="217.1" x2="717.30" y2="255.3" stroke="#0f9b82" stroke-width="0.9"/>
<rect x="715.60" y="233.2" width="3.4" height="21.4" fill="#0f9b82"/>
<line x1="722.41" y1="233.4" x2="722.41" y2="300.0" stroke="#e8384c" stroke-width="0.9"/>
<rect x="720.71" y="233.9" width="3.4" height="64.1" fill="#e8384c"/>
<line x1="727.52" y1="270.9" x2="727.52" y2="300.5" stroke="#0f9b82" stroke-width="0.9"/>
<rect x="725.82" y="271.6" width="3.4" height="21.9" fill="#0f9b82"/>
<line x1="732.64" y1="247.2" x2="732.64" y2="274.9" stroke="#0f9b82" stroke-width="0.9"/>
<rect x="730.94" y="261.6" width="3.4" height="10.1" fill="#0f9b82"/>
<line x1="737.75" y1="251.5" x2="737.75" y2="265.3" stroke="#e8384c" stroke-width="0.9"/>
<rect x="736.05" y="258.5" width="3.4" height="6.3" fill="#e8384c"/>
<line x1="742.87" y1="252.8" x2="742.87" y2="272.9" stroke="#e8384c" stroke-width="0.9"/>
<rect x="741.17" y="267.3" width="3.4" height="4.3" fill="#e8384c"/>
<line x1="747.99" y1="267.3" x2="747.99" y2="284.9" stroke="#e8384c" stroke-width="0.9"/>
<rect x="746.28" y="267.8" width="3.4" height="3.8" fill="#e8384c"/>
<line x1="753.10" y1="265.4" x2="753.10" y2="278.0" stroke="#0f9b82" stroke-width="0.9"/>
<rect x="751.40" y="269.2" width="3.4" height="3.8" fill="#0f9b82"/>
<line x1="758.22" y1="261.6" x2="758.22" y2="271.7" stroke="#0f9b82" stroke-width="0.9"/>
<rect x="756.51" y="262.1" width="3.4" height="2.5" fill="#0f9b82"/>
<line x1="763.33" y1="216.4" x2="763.33" y2="273.0" stroke="#0f9b82" stroke-width="0.9"/>
<rect x="761.63" y="244.0" width="3.4" height="13.8" fill="#0f9b82"/>
<line x1="768.45" y1="220.7" x2="768.45" y2="252.3" stroke="#0f9b82" stroke-width="0.9"/>
<rect x="766.75" y="236.5" width="3.4" height="10.1" fill="#0f9b82"/>
<line x1="773.56" y1="239.8" x2="773.56" y2="262.4" stroke="#e8384c" stroke-width="0.9"/>
<rect x="771.86" y="247.8" width="3.4" height="13.1" fill="#e8384c"/>
<line x1="778.68" y1="234.7" x2="778.68" y2="256.6" stroke="#0f9b82" stroke-width="0.9"/>
<rect x="776.98" y="241.0" width="3.4" height="11.8" fill="#0f9b82"/>
<line x1="783.79" y1="225.2" x2="783.79" y2="244.8" stroke="#0f9b82" stroke-width="0.9"/>
<rect x="782.09" y="225.9" width="3.4" height="16.8" fill="#0f9b82"/>
<line x1="788.91" y1="221.4" x2="788.91" y2="254.1" stroke="#e8384c" stroke-width="0.9"/>
<rect x="787.21" y="226.5" width="3.4" height="23.9" fill="#e8384c"/>
<line x1="794.02" y1="251.1" x2="794.02" y2="257.9" stroke="#0f9b82" stroke-width="0.9"/>
<rect x="792.32" y="251.1" width="3.4" height="1.8" fill="#0f9b82"/>
<line x1="799.13" y1="252.3" x2="799.13" y2="264.7" stroke="#e8384c" stroke-width="0.9"/>
<rect x="797.43" y="252.8" width="3.4" height="11.3" fill="#e8384c"/>
<line x1="804.25" y1="234.0" x2="804.25" y2="273.5" stroke="#0f9b82" stroke-width="0.9"/>
<rect x="802.55" y="234.7" width="3.4" height="30.7" fill="#0f9b82"/>
<line x1="809.37" y1="225.9" x2="809.37" y2="243.3" stroke="#0f9b82" stroke-width="0.9"/>
<rect x="807.66" y="235.2" width="3.4" height="3.3" fill="#0f9b82"/>
<line x1="814.48" y1="227.7" x2="814.48" y2="237.8" stroke="#e8384c" stroke-width="0.9"/>
<rect x="812.78" y="231.5" width="3.4" height="5.5" fill="#e8384c"/>
<line x1="819.60" y1="229.0" x2="819.60" y2="239.8" stroke="#0f9b82" stroke-width="0.9"/>
<rect x="817.89" y="234.7" width="3.4" height="3.0" fill="#0f9b82"/>
<line x1="824.71" y1="213.1" x2="824.71" y2="235.2" stroke="#0f9b82" stroke-width="0.9"/>
<rect x="823.01" y="228.5" width="3.4" height="6.3" fill="#0f9b82"/>
<line x1="829.83" y1="236.0" x2="829.83" y2="247.8" stroke="#e8384c" stroke-width="0.9"/>
<rect x="828.12" y="236.0" width="3.4" height="1.8" fill="#e8384c"/>
<line x1="834.94" y1="235.2" x2="834.94" y2="248.3" stroke="#e8384c" stroke-width="0.9"/>
<rect x="833.24" y="242.3" width="3.4" height="5.5" fill="#e8384c"/>
<line x1="840.06" y1="248.3" x2="840.06" y2="254.9" stroke="#e8384c" stroke-width="0.9"/>
<rect x="838.36" y="249.6" width="3.4" height="2.8" fill="#e8384c"/>
<line x1="845.17" y1="247.8" x2="845.17" y2="254.1" stroke="#0f9b82" stroke-width="0.9"/>
<rect x="843.47" y="251.6" width="3.4" height="2.0" fill="#0f9b82"/>
<line x1="850.29" y1="235.2" x2="850.29" y2="252.1" stroke="#0f9b82" stroke-width="0.9"/>
<rect x="848.59" y="239.8" width="3.4" height="11.8" fill="#0f9b82"/>
<line x1="855.40" y1="235.8" x2="855.40" y2="244.0" stroke="#e8384c" stroke-width="0.9"/>
<rect x="853.70" y="239.0" width="3.4" height="3.0" fill="#e8384c"/>
<line x1="860.51" y1="223.9" x2="860.51" y2="239.5" stroke="#0f9b82" stroke-width="0.9"/>
<rect x="858.81" y="233.2" width="3.4" height="5.8" fill="#0f9b82"/>
<line x1="865.63" y1="221.4" x2="865.63" y2="237.3" stroke="#0f9b82" stroke-width="0.9"/>
<rect x="863.93" y="231.0" width="3.4" height="3.8" fill="#0f9b82"/>
<line x1="870.75" y1="220.2" x2="870.75" y2="230.2" stroke="#e8384c" stroke-width="0.9"/>
<rect x="869.04" y="227.2" width="3.4" height="1.3" fill="#e8384c"/>
<rect x="0" y="365.3" width="966" height="96.9" fill="#7e57c2" fill-opacity="0.1"/>
<line x1="0" y1="365.3" x2="966" y2="365.3" stroke="#858892" stroke-width="1" stroke-dasharray="3.8,4.22" stroke-dashoffset="2.72"/>
<line x1="0" y1="414.0" x2="966" y2="414.0" stroke="#bdbfc8" stroke-width="1" stroke-dasharray="3.8,4.22" stroke-dashoffset="2.72"/>
<line x1="0" y1="462.2" x2="966" y2="462.2" stroke="#858892" stroke-width="1" stroke-dasharray="4.4,5.6" stroke-dashoffset="0.5"/>
<defs><linearGradient id="os" gradientUnits="userSpaceOnUse" x1="0" y1="462.2" x2="0" y2="485"><stop offset="0" stop-color="#f23645" stop-opacity="0"/><stop offset="1" stop-color="#f23645" stop-opacity="0.32"/></linearGradient><clipPath id="osc"><rect x="0" y="462.2" width="966" height="40"/></clipPath></defs>
<path d="M36.3,410.2 L41.4,410.9 L46.5,406.4 L52.1,408.9 L57.1,415.3 L62.2,416.0 L67.3,414.2 L72.4,408.9 L78.0,424.4 L82.5,423.6 L87.9,418.1 L92.9,421.1 L98.3,425.4 L103.4,428.7 L108.7,429.5 L113.5,424.1 L118.6,414.0 L123.7,418.6 L128.2,406.4 L133.8,406.4 L138.9,416.5 L144.0,420.6 L149.3,412.2 L154.4,414.8 L159.5,423.6 L164.3,434.3 L169.6,421.9 L174.7,426.7 L179.8,430.5 L184.9,424.9 L190.5,415.5 L195.0,419.8 L200.6,419.8 L205.2,390.1 L210.5,387.3 L215.6,402.1 L220.9,413.5 L226.0,414.0 L231.1,422.4 L236.2,422.9 L241.7,428.0 L246.3,419.1 L251.5,434.6 L256.6,426.2 L261.4,418.6 L266.8,424.4 L271.8,425.7 L276.9,430.5 L282.2,425.7 L287.3,423.6 L292.4,397.0 L297.5,386.3 L302.6,382.5 L307.6,381.2 L312.5,377.9 L317.5,391.9 L322.9,410.2 L328.0,408.4 L333.3,411.5 L338.4,408.4 L343.4,407.9 L348.8,413.5 L353.6,407.6 L358.9,412.2 L364.0,396.5 L369.1,400.3 L374.2,400.0 L379.5,400.8 L384.6,423.6 L389.7,439.6 L394.7,440.1 L399.8,443.4 L404.9,447.3 L410.0,451.6 L415.3,445.2 L420.6,432.5 L425.7,441.9 L430.8,449.0 L435.4,449.5 L440.5,430.8 L446.3,436.3 L451.4,446.0 L456.2,464.3 L461.5,450.3 L466.6,453.6 L471.7,456.7 L476.8,463.0 L481.8,463.0 L486.7,468.1 L491.7,473.9 L496.8,471.4 L502.5,473.7 L507.6,478.7 L512.7,483.3 L517.3,473.2 L522.3,473.7 L527.9,477.0 L532.5,460.0 L537.6,461.0 L542.7,454.1 L547.7,459.7 L553.3,398.2 L557.9,428.0 L563.2,412.2 L568.3,421.1 L573.6,430.0 L578.7,432.5 L583.8,425.7 L588.9,436.3 L594.0,446.0 L599.0,449.0 L604.4,452.3 L609.7,454.1 L614.3,440.9 L619.3,444.5 L624.4,452.3 L630.0,446.5 L634.6,438.9 L639.9,423.1 L645.3,419.3 L650.3,423.6 L655.4,406.6 L660.7,417.3 L665.6,413.5 L670.9,419.8 L676.0,413.5 L681.1,416.5 L686.1,416.5 L691.2,414.0 L696.8,417.3 L701.9,415.5 L706.4,388.1 L711.5,374.1 L717.1,360.7 L721.7,420.6 L727.3,403.8 L732.4,398.2 L737.4,401.3 L742.5,405.4 L747.6,405.4 L753.0,404.1 L757.8,399.5 L762.9,387.6 L768.2,381.7 L773.5,403.8 L778.6,390.6 L783.9,382.2 L788.8,402.1 L793.8,403.3 L799.4,411.7 L803.7,394.4 L809.1,394.9 L814.4,395.7 L819.5,393.7 L824.8,389.9 L829.6,400.0 L835.0,408.4 L840.3,412.2 L844.9,412.2 L850.0,401.3 L855.0,402.8 L860.1,395.7 L865.2,393.7 L870.3,391.1 L870.3,462.2 L36.3,462.2 Z" fill="url(#os)" clip-path="url(#osc)"/>
<path d="M102.3,416.5 L109.2,418.6 L119.3,419.8 L129.5,419.3 L139.7,419.1 L152.4,418.1 L165.1,419.1 L177.8,419.1 L190.5,418.6 L200.6,419.8 L205.7,419.1 L213.3,416.5 L223.5,415.5 L233.6,415.3 L243.8,415.5 L250.0,415.5 L257.6,415.3 L265.2,415.5 L272.9,417.3 L280.5,421.6 L287.3,424.1 L295.7,421.6 L303.3,417.3 L310.9,411.7 L318.6,408.4 L326.2,405.9 L333.8,404.6 L341.4,403.3 L351.6,400.8 L361.7,399.5 L369.3,400.8 L377.0,403.3 L384.6,407.1 L392.2,410.9 L402.4,416.0 L412.5,422.4 L422.7,426.2 L432.8,431.8 L443.0,437.6 L453.1,443.4 L463.3,445.2 L473.5,447.0 L483.6,449.5 L493.8,454.1 L500.0,456.1 L507.6,460.5 L515.2,465.5 L522.9,468.1 L533.0,469.3 L540.6,469.3 L548.2,468.8 L553.3,464.8 L560.9,459.2 L568.6,453.6 L576.2,448.5 L583.8,442.7 L591.4,438.9 L599.0,436.8 L606.7,436.3 L614.3,435.1 L619.3,434.3 L624.4,437.1 L632.0,440.1 L639.7,440.7 L647.3,440.1 L654.9,438.4 L662.5,436.3 L670.1,432.5 L677.8,428.2 L685.4,424.9 L693.0,421.6 L700.6,418.1 L708.2,413.5 L717.1,407.1 L723.5,407.1 L731.1,405.4 L738.7,403.3 L740.0,404.1 L747.6,402.8 L755.2,400.8 L762.9,397.7 L770.5,395.2 L778.1,395.2 L785.7,397.0 L790.8,398.2 L798.4,397.7 L806.0,398.2 L813.6,397.7 L821.3,396.2 L828.9,395.2 L836.5,397.7 L844.1,399.5 L851.7,400.8 L859.3,401.3 L864.4,400.3 L870.3,399.0" fill="none" stroke="#f2d675" stroke-width="1.2" stroke-linejoin="round"/>
<path d="M36.3,410.2 L41.4,410.9 L46.5,406.4 L52.1,408.9 L57.1,415.3 L62.2,416.0 L67.3,414.2 L72.4,408.9 L78.0,424.4 L82.5,423.6 L87.9,418.1 L92.9,421.1 L98.3,425.4 L103.4,428.7 L108.7,429.5 L113.5,424.1 L118.6,414.0 L123.7,418.6 L128.2,406.4 L133.8,406.4 L138.9,416.5 L144.0,420.6 L149.3,412.2 L154.4,414.8 L159.5,423.6 L164.3,434.3 L169.6,421.9 L174.7,426.7 L179.8,430.5 L184.9,424.9 L190.5,415.5 L195.0,419.8 L200.6,419.8 L205.2,390.1 L210.5,387.3 L215.6,402.1 L220.9,413.5 L226.0,414.0 L231.1,422.4 L236.2,422.9 L241.7,428.0 L246.3,419.1 L251.5,434.6 L256.6,426.2 L261.4,418.6 L266.8,424.4 L271.8,425.7 L276.9,430.5 L282.2,425.7 L287.3,423.6 L292.4,397.0 L297.5,386.3 L302.6,382.5 L307.6,381.2 L312.5,377.9 L317.5,391.9 L322.9,410.2 L328.0,408.4 L333.3,411.5 L338.4,408.4 L343.4,407.9 L348.8,413.5 L353.6,407.6 L358.9,412.2 L364.0,396.5 L369.1,400.3 L374.2,400.0 L379.5,400.8 L384.6,423.6 L389.7,439.6 L394.7,440.1 L399.8,443.4 L404.9,447.3 L410.0,451.6 L415.3,445.2 L420.6,432.5 L425.7,441.9 L430.8,449.0 L435.4,449.5 L440.5,430.8 L446.3,436.3 L451.4,446.0 L456.2,464.3 L461.5,450.3 L466.6,453.6 L471.7,456.7 L476.8,463.0 L481.8,463.0 L486.7,468.1 L491.7,473.9 L496.8,471.4 L502.5,473.7 L507.6,478.7 L512.7,483.3 L517.3,473.2 L522.3,473.7 L527.9,477.0 L532.5,460.0 L537.6,461.0 L542.7,454.1 L547.7,459.7 L553.3,398.2 L557.9,428.0 L563.2,412.2 L568.3,421.1 L573.6,430.0 L578.7,432.5 L583.8,425.7 L588.9,436.3 L594.0,446.0 L599.0,449.0 L604.4,452.3 L609.7,454.1 L614.3,440.9 L619.3,444.5 L624.4,452.3 L630.0,446.5 L634.6,438.9 L639.9,423.1 L645.3,419.3 L650.3,423.6 L655.4,406.6 L660.7,417.3 L665.6,413.5 L670.9,419.8 L676.0,413.5 L681.1,416.5 L686.1,416.5 L691.2,414.0 L696.8,417.3 L701.9,415.5 L706.4,388.1 L711.5,374.1 L717.1,360.7 L721.7,420.6 L727.3,403.8 L732.4,398.2 L737.4,401.3 L742.5,405.4 L747.6,405.4 L753.0,404.1 L757.8,399.5 L762.9,387.6 L768.2,381.7 L773.5,403.8 L778.6,390.6 L783.9,382.2 L788.8,402.1 L793.8,403.3 L799.4,411.7 L803.7,394.4 L809.1,394.9 L814.4,395.7 L819.5,393.7 L824.8,389.9 L829.6,400.0 L835.0,408.4 L840.3,412.2 L844.9,412.2 L850.0,401.3 L855.0,402.8 L860.1,395.7 L865.2,393.7 L870.3,391.1" fill="none" stroke="#7e62c4" stroke-width="1.1" stroke-linejoin="round"/>
<g transform="translate(911.2,332)"><circle r="9.5" fill="#fff" stroke="#d9475a" stroke-width="1.3"/><clipPath id="fc"><circle r="7.3"/></clipPath><g clip-path="url(#fc)"><rect x="-8" y="-8" width="16" height="16" fill="#fff"/><rect x="-8" y="-5.0" width="16" height="2.1" fill="#e0455a"/><rect x="-8" y="-0.8" width="16" height="2.1" fill="#e0455a"/><rect x="-8" y="5.2" width="16" height="2.1" fill="#e0455a"/><rect x="-8" y="-8" width="9.6" height="9.8" fill="#4a92e2"/><circle cx="-6.2" cy="-5.2" r="0.45" fill="#fff" fill-opacity="0.85"/><circle cx="-6.2" cy="-3.2" r="0.45" fill="#fff" fill-opacity="0.85"/><circle cx="-6.2" cy="-1.2" r="0.45" fill="#fff" fill-opacity="0.85"/><circle cx="-6.2" cy="0.6" r="0.45" fill="#fff" fill-opacity="0.85"/><circle cx="-4.2" cy="-5.2" r="0.45" fill="#fff" fill-opacity="0.85"/><circle cx="-4.2" cy="-3.2" r="0.45" fill="#fff" fill-opacity="0.85"/><circle cx="-4.2" cy="-1.2" r="0.45" fill="#fff" fill-opacity="0.85"/><circle cx="-4.2" cy="0.6" r="0.45" fill="#fff" fill-opacity="0.85"/><circle cx="-2.2" cy="-5.2" r="0.45" fill="#fff" fill-opacity="0.85"/><circle cx="-2.2" cy="-3.2" r="0.45" fill="#fff" fill-opacity="0.85"/><circle cx="-2.2" cy="-1.2" r="0.45" fill="#fff" fill-opacity="0.85"/><circle cx="-2.2" cy="0.6" r="0.45" fill="#fff" fill-opacity="0.85"/><circle cx="-0.2" cy="-5.2" r="0.45" fill="#fff" fill-opacity="0.85"/><circle cx="-0.2" cy="-3.2" r="0.45" fill="#fff" fill-opacity="0.85"/><circle cx="-0.2" cy="-1.2" r="0.45" fill="#fff" fill-opacity="0.85"/><circle cx="-0.2" cy="0.6" r="0.45" fill="#fff" fill-opacity="0.85"/></g></g>
<g transform="translate(942,332)"><circle r="9.5" fill="#fff" stroke="#d9475a" stroke-width="1.3"/><g clip-path="url(#fc)"><rect x="-8" y="-8" width="16" height="16" fill="#fff"/><rect x="-8" y="-5.0" width="16" height="2.1" fill="#e0455a"/><rect x="-8" y="-0.8" width="16" height="2.1" fill="#e0455a"/><rect x="-8" y="5.2" width="16" height="2.1" fill="#e0455a"/><rect x="-8" y="-8" width="9.6" height="9.8" fill="#4a92e2"/><circle cx="-6.2" cy="-5.2" r="0.45" fill="#fff" fill-opacity="0.85"/><circle cx="-6.2" cy="-3.2" r="0.45" fill="#fff" fill-opacity="0.85"/><circle cx="-6.2" cy="-1.2" r="0.45" fill="#fff" fill-opacity="0.85"/><circle cx="-6.2" cy="0.6" r="0.45" fill="#fff" fill-opacity="0.85"/><circle cx="-4.2" cy="-5.2" r="0.45" fill="#fff" fill-opacity="0.85"/><circle cx="-4.2" cy="-3.2" r="0.45" fill="#fff" fill-opacity="0.85"/><circle cx="-4.2" cy="-1.2" r="0.45" fill="#fff" fill-opacity="0.85"/><circle cx="-4.2" cy="0.6" r="0.45" fill="#fff" fill-opacity="0.85"/><circle cx="-2.2" cy="-5.2" r="0.45" fill="#fff" fill-opacity="0.85"/><circle cx="-2.2" cy="-3.2" r="0.45" fill="#fff" fill-opacity="0.85"/><circle cx="-2.2" cy="-1.2" r="0.45" fill="#fff" fill-opacity="0.85"/><circle cx="-2.2" cy="0.6" r="0.45" fill="#fff" fill-opacity="0.85"/><circle cx="-0.2" cy="-5.2" r="0.45" fill="#fff" fill-opacity="0.85"/><circle cx="-0.2" cy="-3.2" r="0.45" fill="#fff" fill-opacity="0.85"/><circle cx="-0.2" cy="-1.2" r="0.45" fill="#fff" fill-opacity="0.85"/><circle cx="-0.2" cy="0.6" r="0.45" fill="#fff" fill-opacity="0.85"/></g></g>
</svg>

<div class="box" style="left:3px;top:352px;width:141.5px;height:17.5px;background:rgba(255,255,255,0.7)"></div>
<div class="box" style="left:3px;top:65px;width:208px;height:18px;background:rgba(255,255,255,0.75)"></div>
<div class="box" style="left:6.3px;top:27.9px;width:48.5px;height:30.8px;border:1px solid #eb8c98;border-radius:4px"></div>
<div class="box" style="left:92px;top:27.9px;width:48.7px;height:30.8px;border:1px solid #7f9fe6;border-radius:4px"></div>
<div class="box" style="left:6.3px;top:86.7px;width:25.7px;height:18.3px;border:1px solid #e3e5ea;border-radius:3px;background:rgba(255,255,255,0.88)"></div>
<div class="box" style="left:970px;top:3px;width:52px;height:21.6px;border:1px solid #f0f1f5;border-radius:3px;background:#fff"></div>
<div class="box" style="left:967.4px;top:205.9px;width:38.8px;height:15.2px;background:#f23645;border-radius:2px 2px 0 0"></div>
<div class="box" style="left:920.1px;top:220.8px;width:47.4px;height:14.7px;background:#f23645;border-radius:2px 0 0 2px"></div>
<div class="box" style="left:967.4px;top:220.8px;width:54.6px;height:28px;background:#f23645;border-radius:0 2px 2px 0"></div>
<div class="box" style="left:967.4px;top:249.3px;width:38.8px;height:15px;background:#2962ff;border-radius:1px"></div>
<div class="box" style="left:967.4px;top:264.2px;width:38.8px;height:15.2px;background:#089981;border-radius:1px"></div>
<div class="box" style="left:967.2px;top:384px;width:40px;height:15.2px;background:#7e57c2;border-radius:1px"></div>
<div class="box" style="left:967.2px;top:399.8px;width:40px;height:15.2px;background:#fdd835;border-radius:1px"></div>

<svg width="1024" height="557" viewBox="0 0 1024 557">
<circle cx="14.85" cy="12.85" r="8.2" fill="#101010"/>
<path d="M10.4,15.7 H13.4 L19.6,10.0 H16.6 Z" fill="#fff"/><path d="M10.7,10.0 H12.9 L19.3,15.7 H17.1 Z" fill="#fff"/>
<circle cx="242" cy="13" r="7.5" fill="#089981" fill-opacity="0.15"/><circle cx="242" cy="13" r="3.6" fill="#089981"/>
<path d="M9.6,470.8 H20.9 V484 H14.8 V476.9 H9.6 Z" fill="#131722"/><circle cx="25.6" cy="473.6" r="2.7" fill="#131722"/><path d="M30.2,470.8 H36.8 L31.2,484 H24.7 Z" fill="#131722"/>
<path d="M15.6,97.6 L19.1,94.2 L22.6,97.6" fill="none" stroke="#131722" stroke-width="1.3"/>
<path d="M1013.3,13 L1015.8,15.3 L1018.3,13" fill="none" stroke="#131722" stroke-width="1.2"/>
<path d="M1003.3,510.2 L1000.1,515.7 L993.9,515.7 L990.7,510.2 L993.9,504.7 L1000.1,504.7 Z" fill="none" stroke="#131722" stroke-width="1.1"/><circle cx="997" cy="510.2" r="2" fill="none" stroke="#131722" stroke-width="1.1"/>
<line x1="86.5" y1="531.5" x2="86.5" y2="551" stroke="#e6e8ee" stroke-width="1"/>
<g fill="none" stroke="#2a2e39" stroke-width="1.1"><path d="M100.6,540 V535.6 a2,2 0 0 1 2,-2 H114 a2,2 0 0 1 2,2 V545 a2,2 0 0 1 -2,2 H109"/><path d="M100.6,537.7 H116"/><path d="M104.8,531.6 V534.2 M111.8,531.6 V534.2"/><path d="M99.6,544.4 H105.6 M103.3,541.9 L105.8,544.4 L103.3,546.9"/></g>
</svg>
<div id="labels">
<span class="t" style="left:27.10px;top:5.80px;font-size:14px;line-height:16.80px;font-weight:400;color:#131722;letter-spacing:0.015px;-webkit-text-stroke:0.2px #131722;">MYX / U. S. Dollar · 4h · Kraken</span>
<span class="t" style="left:258.00px;top:7.30px;font-size:11.5px;line-height:13.80px;font-weight:400;color:#131722;letter-spacing:0.000px;transform:scaleX(0.7595);transform-origin:0 50%;-webkit-text-stroke:0.2px #131722;">O</span>
<span class="t" style="left:266.00px;top:7.30px;font-size:11.5px;line-height:13.80px;font-weight:400;color:#e63a4f;letter-spacing:0.044px;-webkit-text-stroke:0.2px #e63a4f;">2.544</span>
<span class="t" style="left:301.70px;top:7.30px;font-size:11.5px;line-height:13.80px;font-weight:400;color:#131722;letter-spacing:0.000px;transform:scaleX(0.7940);transform-origin:0 50%;-webkit-text-stroke:0.2px #131722;">H</span>
<span class="t" style="left:309.50px;top:7.30px;font-size:11.5px;line-height:13.80px;font-weight:400;color:#e63a4f;letter-spacing:0.024px;-webkit-text-stroke:0.2px #e63a4f;">2.590</span>
<span class="t" style="left:345.20px;top:7.30px;font-size:11.5px;line-height:13.80px;font-weight:400;color:#131722;letter-spacing:0.000px;transform:scaleX(0.7805);transform-origin:0 50%;-webkit-text-stroke:0.2px #131722;">L</span>
<span class="t" style="left:351.50px;top:7.30px;font-size:11.5px;line-height:13.80px;font-weight:400;color:#e63a4f;letter-spacing:-0.136px;-webkit-text-stroke:0.2px #e63a4f;">2.519</span>
<span class="t" style="left:386.20px;top:7.30px;font-size:11.5px;line-height:13.80px;font-weight:400;color:#131722;letter-spacing:0.000px;transform:scaleX(0.7459);transform-origin:0 50%;-webkit-text-stroke:0.2px #131722;">C</span>
<span class="t" style="left:393.70px;top:7.30px;font-size:11.5px;line-height:13.80px;font-weight:400;color:#e63a4f;letter-spacing:-0.036px;-webkit-text-stroke:0.2px #e63a4f;">2.539</span>
<span class="t" style="left:429.40px;top:7.30px;font-size:11.5px;line-height:13.80px;font-weight:400;color:#e63a4f;letter-spacing:-0.267px;-webkit-text-stroke:0.2px #e63a4f;">+0.022</span>
<span class="t" style="left:468.30px;top:7.30px;font-size:11.5px;line-height:13.80px;font-weight:400;color:#e63a4f;letter-spacing:0.000px;transform:scaleX(0.9088);transform-origin:0 50%;-webkit-text-stroke:0.2px #e63a4f;">(+0.87%)</span>
<span class="t" style="left:16.30px;top:30.70px;font-size:11.5px;line-height:13.80px;font-weight:700;color:#e63a4f;letter-spacing:-0.076px;">2.535</span>
<span class="t" style="left:20.00px;top:44.20px;font-size:9.5px;line-height:11.40px;font-weight:400;color:#e63a4f;letter-spacing:0.000px;transform:scaleX(0.8688);transform-origin:0 50%;-webkit-text-stroke:0.2px #e63a4f;">SELL</span>
<span class="t" style="left:62.00px;top:37.10px;font-size:9.5px;line-height:11.40px;font-weight:400;color:#131722;letter-spacing:-0.156px;-webkit-text-stroke:0.2px #131722;">0.012</span>
<span class="t" style="left:102.50px;top:30.70px;font-size:11.5px;line-height:13.80px;font-weight:700;color:#3765dc;letter-spacing:-0.016px;">2.547</span>
<span class="t" style="left:107.50px;top:44.20px;font-size:9.5px;line-height:11.40px;font-weight:400;color:#3765dc;letter-spacing:0.000px;transform:scaleX(0.8953);transform-origin:0 50%;-webkit-text-stroke:0.2px #3765dc;">BUY</span>
<span class="t" style="left:6.30px;top:66.70px;font-size:11.5px;line-height:13.80px;font-weight:400;color:#131722;letter-spacing:-0.297px;-webkit-text-stroke:0.2px #131722;">BB 20 SMA close 2</span>
<span class="t" style="left:108.00px;top:66.70px;font-size:11.5px;line-height:13.80px;font-weight:400;color:#3765dc;letter-spacing:0.044px;-webkit-text-stroke:0.2px #3765dc;">2.434</span>
<span class="t" style="left:142.50px;top:66.70px;font-size:11.5px;line-height:13.80px;font-weight:400;color:#e63a4f;letter-spacing:-0.056px;-webkit-text-stroke:0.2px #e63a4f;">2.601</span>
<span class="t" style="left:177.00px;top:66.70px;font-size:11.5px;line-height:13.80px;font-weight:400;color:#0f9a83;letter-spacing:0.044px;-webkit-text-stroke:0.2px #0f9a83;">2.267</span>
<span class="t" style="left:974.00px;top:7.60px;font-size:10.5px;line-height:12.60px;font-weight:400;color:#131722;letter-spacing:0.000px;transform:scaleX(0.8569);transform-origin:0 50%;-webkit-text-stroke:0.2px #131722;">USD</span>
<span class="t" style="left:974.60px;top:38.20px;font-size:10.5px;line-height:12.60px;font-weight:400;color:#131722;letter-spacing:0.124px;-webkit-text-stroke:0.2px #131722;">4.000</span>
<span class="t" style="left:974.60px;top:101.10px;font-size:10.5px;line-height:12.60px;font-weight:400;color:#131722;letter-spacing:0.124px;-webkit-text-stroke:0.2px #131722;">3.500</span>
<span class="t" style="left:974.60px;top:163.90px;font-size:10.5px;line-height:12.60px;font-weight:400;color:#131722;letter-spacing:0.124px;-webkit-text-stroke:0.2px #131722;">3.000</span>
<span class="t" style="left:974.60px;top:289.90px;font-size:10.5px;line-height:12.60px;font-weight:400;color:#131722;letter-spacing:0.124px;-webkit-text-stroke:0.2px #131722;">2.000</span>
<span class="t" style="left:974.60px;top:432.00px;font-size:10.5px;line-height:12.60px;font-weight:400;color:#131722;letter-spacing:0.224px;-webkit-text-stroke:0.2px #131722;">40.00</span>
<span class="t" style="left:974.60px;top:480.90px;font-size:10.5px;line-height:12.60px;font-weight:400;color:#131722;letter-spacing:0.224px;-webkit-text-stroke:0.2px #131722;">20.00</span>
<span class="t" style="left:903.70px;top:74.70px;font-size:12.5px;line-height:15.00px;font-weight:400;color:#3f6cc4;letter-spacing:-0.089px;-webkit-text-stroke:0.2px #3f6cc4;">$3.602</span>
<span class="t" style="left:908.70px;top:123.30px;font-size:12.5px;line-height:15.00px;font-weight:400;color:#3f6cc4;letter-spacing:0.004px;-webkit-text-stroke:0.2px #3f6cc4;">$3.24</span>
<span class="t" style="left:909.00px;top:157.30px;font-size:12.5px;line-height:15.00px;font-weight:400;color:#3f6cc4;letter-spacing:-0.056px;-webkit-text-stroke:0.2px #3f6cc4;">$2.96</span>
<span class="t" style="left:909.00px;top:270.70px;font-size:12.5px;line-height:15.00px;font-weight:400;color:#d2405a;letter-spacing:-0.106px;-webkit-text-stroke:0.2px #d2405a;">$2.249</span>
<span class="t" style="left:975.60px;top:207.20px;font-size:10.5px;line-height:12.60px;font-weight:400;color:#fff;letter-spacing:-0.116px;-webkit-text-stroke:0.35px #fff;">2.601</span>
<span class="t" style="left:975.60px;top:221.90px;font-size:10.5px;line-height:12.60px;font-weight:400;color:#fff;letter-spacing:-0.116px;-webkit-text-stroke:0.35px #fff;">2.539</span>
<span class="t" style="left:975.60px;top:235.40px;font-size:10.5px;line-height:12.60px;font-weight:400;color:#fff;letter-spacing:0.178px;-webkit-text-stroke:0.35px #fff;">01:56:08</span>
<span class="t" style="left:975.60px;top:250.70px;font-size:10.5px;line-height:12.60px;font-weight:400;color:#fff;letter-spacing:-0.116px;-webkit-text-stroke:0.35px #fff;">2.434</span>
<span class="t" style="left:975.60px;top:265.90px;font-size:10.5px;line-height:12.60px;font-weight:400;color:#fff;letter-spacing:-0.116px;-webkit-text-stroke:0.35px #fff;">2.267</span>
<span class="t" style="left:923.70px;top:221.90px;font-size:10.5px;line-height:12.60px;font-weight:400;color:#fff;letter-spacing:0.000px;transform:scaleX(0.8701);transform-origin:0 50%;-webkit-text-stroke:0.35px #fff;">MYXUSD</span>
<span class="t" style="left:6.00px;top:353.30px;font-size:11.5px;line-height:13.80px;font-weight:400;color:#131722;letter-spacing:-0.309px;-webkit-text-stroke:0.2px #131722;">RSI 14 close</span>
<span class="t" style="left:75.00px;top:353.30px;font-size:11.5px;line-height:13.80px;font-weight:400;color:#7e57c2;letter-spacing:0.044px;-webkit-text-stroke:0.2px #7e57c2;">59.05</span>
<span class="t" style="left:110.00px;top:353.30px;font-size:11.5px;line-height:13.80px;font-weight:400;color:#f0c93e;letter-spacing:0.044px;-webkit-text-stroke:0.2px #f0c93e;">55.84</span>
<span class="t" style="left:975.00px;top:385.30px;font-size:10.5px;line-height:12.60px;font-weight:400;color:#fff;letter-spacing:0.144px;-webkit-text-stroke:0.35px #fff;">59.05</span>
<span class="t" style="left:975.00px;top:401.30px;font-size:10.5px;line-height:12.60px;font-weight:400;color:#131722;letter-spacing:0.144px;-webkit-text-stroke:0.2px #131722;">55.84</span>
<span class="t" style="left:31.05px;top:503.90px;font-size:10.5px;line-height:12.60px;font-weight:400;color:#131722;letter-spacing:-0.194px;-webkit-text-stroke:0.2px #131722;">16</span>
<span class="t" style="left:92.43px;top:503.90px;font-size:10.5px;line-height:12.60px;font-weight:400;color:#131722;letter-spacing:-0.194px;-webkit-text-stroke:0.2px #131722;">18</span>
<span class="t" style="left:153.81px;top:503.90px;font-size:10.5px;line-height:12.60px;font-weight:400;color:#131722;letter-spacing:-0.194px;-webkit-text-stroke:0.2px #131722;">20</span>
<span class="t" style="left:215.19px;top:503.90px;font-size:10.5px;line-height:12.60px;font-weight:400;color:#131722;letter-spacing:-0.194px;-webkit-text-stroke:0.2px #131722;">22</span>
<span class="t" style="left:276.57px;top:503.90px;font-size:10.5px;line-height:12.60px;font-weight:400;color:#131722;letter-spacing:-0.194px;-webkit-text-stroke:0.2px #131722;">24</span>
<span class="t" style="left:337.95px;top:503.90px;font-size:10.5px;line-height:12.60px;font-weight:400;color:#131722;letter-spacing:-0.194px;-webkit-text-stroke:0.2px #131722;">26</span>
<span class="t" style="left:399.33px;top:503.90px;font-size:10.5px;line-height:12.60px;font-weight:400;color:#131722;letter-spacing:-0.194px;-webkit-text-stroke:0.2px #131722;">28</span>
<span class="t" style="left:460.71px;top:503.90px;font-size:10.5px;line-height:12.60px;font-weight:400;color:#131722;letter-spacing:-0.194px;-webkit-text-stroke:0.2px #131722;">30</span>
<span class="t" style="left:518.24px;top:503.90px;font-size:10.5px;line-height:12.60px;font-weight:700;color:#131722;letter-spacing:-0.281px;">Nov</span>
<span class="t" style="left:581.17px;top:503.90px;font-size:10.5px;line-height:12.60px;font-weight:400;color:#131722;letter-spacing:-0.244px;-webkit-text-stroke:0.2px #131722;">3</span>
<span class="t" style="left:642.55px;top:503.90px;font-size:10.5px;line-height:12.60px;font-weight:400;color:#131722;letter-spacing:-0.244px;-webkit-text-stroke:0.2px #131722;">5</span>
<span class="t" style="left:703.93px;top:503.90px;font-size:10.5px;line-height:12.60px;font-weight:400;color:#131722;letter-spacing:-0.244px;-webkit-text-stroke:0.2px #131722;">7</span>
<span class="t" style="left:765.31px;top:503.90px;font-size:10.5px;line-height:12.60px;font-weight:400;color:#131722;letter-spacing:-0.244px;-webkit-text-stroke:0.2px #131722;">9</span>
<span class="t" style="left:823.84px;top:503.90px;font-size:10.5px;line-height:12.60px;font-weight:400;color:#131722;letter-spacing:0.197px;-webkit-text-stroke:0.2px #131722;">11</span>
<span class="t" style="left:885.22px;top:503.90px;font-size:10.5px;line-height:12.60px;font-weight:400;color:#131722;letter-spacing:-0.194px;-webkit-text-stroke:0.2px #131722;">13</span>
<span class="t" style="left:946.60px;top:503.90px;font-size:10.5px;line-height:12.60px;font-weight:400;color:#131722;letter-spacing:-0.194px;-webkit-text-stroke:0.2px #131722;">15</span>
<span class="t" style="left:11.80px;top:533.80px;font-size:12px;line-height:14.40px;font-weight:400;color:#131722;letter-spacing:0.000px;transform:scaleX(0.9124);transform-origin:0 50%;-webkit-text-stroke:0.3px #131722;">1D</span>
<span class="t" style="left:37.40px;top:533.80px;font-size:12px;line-height:14.40px;font-weight:400;color:#131722;letter-spacing:0.000px;transform:scaleX(0.8864);transform-origin:0 50%;-webkit-text-stroke:0.3px #131722;">5D</span>
<span class="t" style="left:62.30px;top:533.80px;font-size:12px;line-height:14.40px;font-weight:400;color:#131722;letter-spacing:0.319px;-webkit-text-stroke:0.3px #131722;">All</span>
<span class="t" style="left:910.50px;top:533.80px;font-size:12px;line-height:14.40px;font-weight:400;color:#131722;letter-spacing:0.136px;-webkit-text-stroke:0.2px #131722;">11:33:52 UTC+5:30</span>
<span class="t" style="left:43.50px;top:468.60px;font-size:18px;line-height:21.60px;font-weight:700;color:#131722;letter-spacing:0.336px;-webkit-text-stroke:0.5px #131722;">TradingView</span>
</div>
</div></body></html>
